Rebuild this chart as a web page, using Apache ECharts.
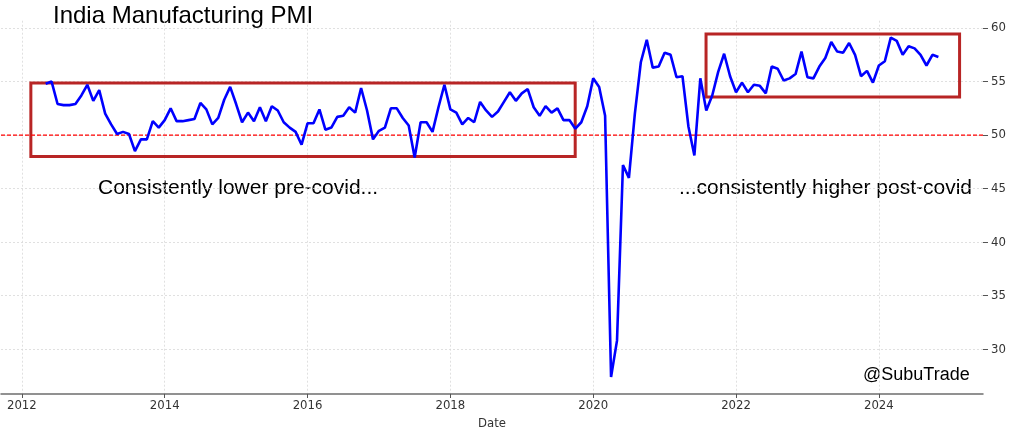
<!DOCTYPE html>
<html>
<head>
<meta charset="utf-8">
<script src="https://cdn.jsdelivr.net/npm/echarts@6/dist/echarts.min.js"></script>
<style>
  html, body { margin: 0; padding: 0; background: #fff; }
  #chart { width: 1021px; height: 429px; }
</style>
</head>
<body>
<div id="chart"></div>
<script>
// monthly PMI readings, first value is May 2012
const startYear = 2012
const startMonth = 5
const pmi2012 = [54.8, 55.0, 52.9, 52.8, 52.8, 52.9, 53.7, 54.7]
const pmi2013 = [53.2, 54.2, 52.0, 51.0, 50.1, 50.3, 50.1, 48.5, 49.6, 49.6, 51.3, 50.7]
const pmi2014 = [51.4, 52.5, 51.3, 51.3, 51.4, 51.5, 53.0, 52.4, 51.0, 51.6, 53.3, 54.5]
const pmi2015 = [52.9, 51.2, 52.1, 51.3, 52.6, 51.3, 52.7, 52.3, 51.2, 50.7, 50.3, 49.1]
const pmi2016 = [51.1, 51.1, 52.4, 50.5, 50.7, 51.7, 51.8, 52.6, 52.1, 54.4, 52.3, 49.6]
const pmi2017 = [50.4, 50.7, 52.5, 52.5, 51.6, 50.9, 47.9, 51.2, 51.2, 50.3, 52.6, 54.7]
const pmi2018 = [52.4, 52.1, 51.0, 51.6, 51.2, 53.1, 52.3, 51.7, 52.2, 53.1, 54.0, 53.2]
const pmi2019 = [53.9, 54.3, 52.6, 51.8, 52.7, 52.1, 52.5, 51.4, 51.4, 50.6, 51.2, 52.7]
const pmi2020 = [55.3, 54.5, 51.8, 27.4, 30.8, 47.2, 46.0, 52.0, 56.8, 58.9, 56.3, 56.4]
const pmi2021 = [57.7, 57.5, 55.4, 55.5, 50.8, 48.1, 55.3, 52.3, 53.7, 55.9, 57.6, 55.5]
const pmi2022 = [54.0, 54.9, 54.0, 54.7, 54.6, 53.9, 56.4, 56.2, 55.1, 55.3, 55.7, 57.8]
const pmi2023 = [55.4, 55.3, 56.4, 57.2, 58.7, 57.8, 57.7, 58.6, 57.5, 55.5, 56.0, 54.9]
const pmi2024 = [56.5, 56.9, 59.1, 58.8, 57.5, 58.3, 58.1, 57.5, 56.5, 57.5, 57.3]

const yearTicks = [2012, 2014, 2016, 2018, 2020, 2022, 2024]
const pmiTicks = [30, 35, 40, 45, 50, 55, 60]
const threshold = 50

// axis extents (matplotlib style 5% padding round the data)
const xMin = 2011.708
const xMax = 2025.458
const yMin = 25.815
const yMax = 60.685

// the two highlighted periods: [x from, y top, x to, y bottom]
const preCovidBox = [2012.126, 54.86, 2019.748, 47.99]
const postCovidBox = [2021.58, 59.44, 2025.13, 53.55]

const pmiValues = [].concat(pmi2012, pmi2013, pmi2014, pmi2015, pmi2016, pmi2017,
  pmi2018, pmi2019, pmi2020, pmi2021, pmi2022, pmi2023, pmi2024)

const seriesData = pmiValues.map((v, i) => {
  const m = startMonth - 1 + i
  return [startYear + m / 12, v]
})

const chart = echarts.init(document.getElementById('chart'))

const boxArea = (b) => [{ xAxis: b[0], yAxis: b[1] }, { xAxis: b[2], yAxis: b[3] }]
const tickFont = { fontFamily: 'DejaVu Sans Condensed', fontSize: 13, color: '#333' }
const gridLine = { show: true, lineStyle: { color: '#d9d9d9', type: [2, 2], width: 0.8 } }

chart.setOption({
  animation: false,
  grid: { left: 1, right: 38, top: 20.7, bottom: 35, outerBoundsMode: 'none' },
  xAxis: {
    type: 'value',
    min: xMin,
    max: xMax,
    name: 'Date',
    nameLocation: 'middle',
    nameGap: 19,
    nameTextStyle: tickFont,
    axisLine: { show: true, lineStyle: { color: '#6e6e6e', width: 1.5 } },
    axisTick: { show: true, length: 4, customValues: yearTicks, lineStyle: { color: '#555' } },
    axisLabel: Object.assign({ customValues: yearTicks, margin: 5, formatter: (v) => String(v) }, tickFont),
    splitLine: gridLine
  },
  yAxis: {
    type: 'value',
    position: 'right',
    min: yMin,
    max: yMax,
    axisLine: { show: false },
    axisTick: { show: true, length: 5, customValues: pmiTicks, lineStyle: { color: '#555' } },
    axisLabel: Object.assign({ customValues: pmiTicks, margin: 8 }, tickFont),
    splitLine: gridLine
  },
  series: [
    {
      // 50 = expansion / contraction line
      type: 'line',
      data: [[xMin, threshold], [xMax, threshold]],
      symbol: 'none',
      silent: true,
      color: '#ff0000',
      lineStyle: { color: '#ff0000', type: [4, 2], width: 1.2 },
      z: 2
    },
    {
      type: 'line',
      data: seriesData,
      showSymbol: false,
      symbol: 'none',
      color: '#0000ff',
      lineStyle: { color: '#0000ff', width: 2.6 },
      z: 3,
      markArea: {
        silent: true,
        itemStyle: { color: 'rgba(0,0,0,0)', borderColor: '#b82525', borderWidth: 3 },
        data: [boxArea(preCovidBox), boxArea(postCovidBox)]
      }
    }
  ],
  graphic: [
    {
      type: 'text', left: 53, top: 4,
      style: { text: 'India Manufacturing PMI', fontFamily: 'Liberation Sans', fontSize: 24, fill: '#000' }
    },
    {
      type: 'text', x: 98, y: 188,
      style: { text: 'Consistently lower pre-covid...', fontFamily: 'Liberation Sans', fontSize: 21, fill: '#000', verticalAlign: 'middle' }
    },
    {
      type: 'text', x: 972, y: 188,
      style: { text: '...consistently higher post-covid', fontFamily: 'Liberation Sans', fontSize: 21, fill: '#000', align: 'right', verticalAlign: 'middle' }
    },
    {
      type: 'text', x: 863, y: 375,
      style: { text: '@SubuTrade', fontFamily: 'Liberation Sans', fontSize: 18, fill: '#000', verticalAlign: 'middle' }
    }
  ]
})
</script>
</body>
</html>
